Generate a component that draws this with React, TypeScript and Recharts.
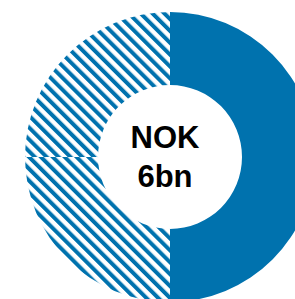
import { PieChart, Pie, Cell, Label } from "recharts";

const segments = ["Solid", "Hatched lower", "Hatched upper"];
const shares = [50, 25, 25];
const centreLines = ["NOK", "6bn"];

const BLUE = "#0072ae";
const fills = [BLUE, "url(#hatchA)", "url(#hatchB)"];

const data = segments.map((name, i) => ({ name, value: shares[i] }));

function CentreText({ viewBox }: any) {
  const cx = viewBox?.cx ?? 165;
  const cy = viewBox?.cy ?? 152;
  return (
    <text
      x={cx}
      textAnchor="middle"
      fill="#000"
      fontFamily="'Liberation Sans', Arial, sans-serif"
      fontWeight="bold"
      fontSize={31}
    >
      <tspan x={cx} y={cy - 4}>
        {centreLines[0]}
      </tspan>
      <tspan x={cx} y={cy + 35}>
        {centreLines[1]}
      </tspan>
    </text>
  );
}

export default function App() {
  return (
    <div style={{ position: "absolute", left: 0, top: 0, width: 295, height: 299, background: "#fff" }}>
      <PieChart width={295} height={299}>
        <defs>
          <pattern
            id="hatchA"
            patternUnits="userSpaceOnUse"
            width={8.4}
            height={8.4}
            patternTransform="rotate(-45)"
          >
            <rect width={8.4} height={8.4} fill="#fff" />
            <rect width={4} height={8.4} fill={BLUE} />
          </pattern>
          <pattern
            id="hatchB"
            x={4}
            patternUnits="userSpaceOnUse"
            width={8.4}
            height={8.4}
            patternTransform="rotate(-45)"
          >
            <rect width={8.4} height={8.4} fill="#fff" />
            <rect width={4} height={8.4} fill={BLUE} />
          </pattern>
        </defs>
        <Pie
          data={data}
          dataKey="value"
          nameKey="name"
          cx={165}
          cy={152}
          innerRadius={72}
          outerRadius={145}
          startAngle={90}
          endAngle={-270}
          stroke="none"
          isAnimationActive={false}
        >
          {data.map((d, i) => (
            <Cell key={d.name} fill={fills[i]} />
          ))}
          <Label position="center" content={<CentreText />} />
        </Pie>
      </PieChart>
    </div>
  );
}
